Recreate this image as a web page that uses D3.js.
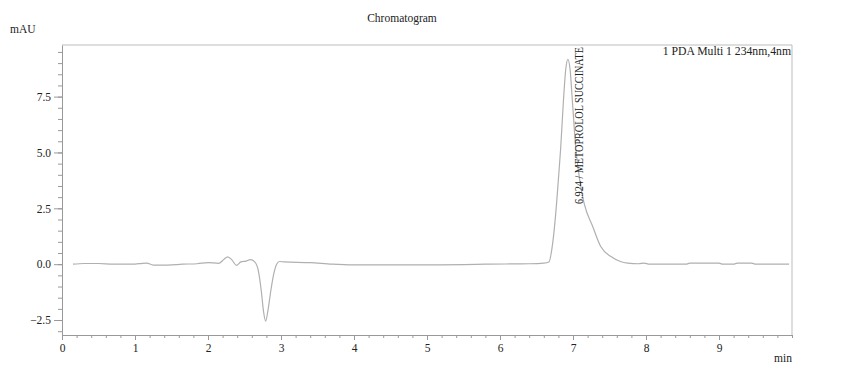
<!DOCTYPE html>
<html>
<head>
<meta charset="utf-8">
<script src="https://d3js.org/d3.v7.min.js"></script>
<style>
  body { margin: 0; background: #fff; }
  text { font-family: "Liberation Serif", "Times New Roman", serif; fill: #222; }
</style>
</head>
<body>
<div id="chart"></div>
<script>
// retention time (min) and signal (mAU)
const times = [0.15, 0.30, 0.50, 0.70, 1.00, 1.10, 1.16, 1.25, 1.45, 1.65, 1.85, 2.00, 2.15, 2.22, 2.27, 2.33, 2.39, 2.45, 2.52, 2.58, 2.64, 2.69, 2.73, 2.76, 2.79, 2.82, 2.86, 2.90, 2.94, 2.98, 3.05, 3.40, 3.70, 4.00, 4.50, 5.00, 5.50, 5.80, 6.40, 6.60, 6.67, 6.72, 6.76, 6.80, 6.83, 6.87, 6.90, 6.93, 6.96, 6.99, 7.04, 7.10, 7.15, 7.27, 7.38, 7.52, 7.65, 7.75, 7.90, 7.97, 8.05, 8.55, 8.60, 9.00, 9.05, 9.20, 9.25, 9.45, 9.50, 9.96];
const signal = [0.00, 0.03, 0.03, 0.00, 0.00, 0.04, 0.05, -0.04, -0.04, 0.00, 0.02, 0.07, 0.04, 0.22, 0.33, 0.18, -0.05, 0.10, 0.14, 0.20, 0.10, -0.30, -1.20, -2.10, -2.55, -2.10, -1.20, -0.45, 0.00, 0.12, 0.10, 0.07, 0.00, -0.03, -0.03, -0.03, -0.02, 0.00, 0.02, 0.05, 0.10, 0.90, 2.14, 3.80, 5.13, 7.37, 8.70, 9.17, 8.72, 7.37, 5.13, 3.60, 2.75, 1.69, 0.79, 0.34, 0.12, 0.05, 0.02, 0.05, 0.00, 0.00, 0.05, 0.05, 0.00, 0.00, 0.05, 0.05, 0.00, 0.00];

const xTicks = [0, 1, 2, 3, 4, 5, 6, 7, 8, 9];
const yTicks = [-2.5, 0.0, 2.5, 5.0, 7.5];
const peakLabel = "6.924 / METOPROLOL SUCCINATE";
const peakTime = 6.924;
const channelLabel = "1 PDA Multi 1 234nm,4nm";

const width = 858, height = 367;
const plotL = 62, plotR = 792, plotT = 45, plotB = 335;

const svg = d3.select("#chart").append("svg")
  .attr("width", width)
  .attr("height", height);

const x = d3.scaleLinear().domain([0, 10]).range([plotL, plotR]);
const y = d3.scaleLinear().domain([-3.17, 9.81]).range([plotB, plotT]);

// frame top and right
svg.append("path")
  .attr("d", `M${plotL},${plotT}H${plotR}V${plotB}`)
  .attr("fill", "none")
  .attr("stroke", "#bdbdbd")
  .attr("stroke-width", 1);

// minor ticks
svg.append("g")
  .attr("transform", `translate(0,${plotB})`)
  .call(d3.axisBottom(x).tickValues(d3.range(0, 10.01, 0.2)).tickSize(3).tickFormat(""))
  .call(g => g.select(".domain").remove())
  .call(g => g.selectAll("line").attr("stroke", "#999"));
svg.append("g")
  .attr("transform", `translate(${plotL},0)`)
  .call(d3.axisLeft(y).tickValues(d3.range(-3.0, 9.8, 0.5)).tickSize(4).tickFormat(""))
  .call(g => g.select(".domain").remove())
  .call(g => g.selectAll("line").attr("stroke", "#999"));

// major axes
const xAxis = svg.append("g")
  .attr("transform", `translate(0,${plotB})`)
  .call(d3.axisBottom(x).tickValues(xTicks).tickSize(5).tickPadding(4).tickFormat(d3.format("d")).tickSizeOuter(0));
const yAxis = svg.append("g")
  .attr("transform", `translate(${plotL},0)`)
  .call(d3.axisLeft(y).tickValues(yTicks).tickSize(8).tickPadding(3).tickFormat(d3.format(".1f")).tickSizeOuter(0));
[xAxis, yAxis].forEach(g => {
  g.select(".domain").attr("stroke", "#999");
  g.selectAll("line").attr("stroke", "#999");
  g.selectAll("text").attr("font-size", 11.5).attr("fill", "#222");
});

// trace
const pts = times.map((t, i) => [t, signal[i]]);
const line = d3.line()
  .x(d => x(d[0]))
  .y(d => y(d[1]))
  .curve(d3.curveMonotoneX);
svg.append("path")
  .datum(pts)
  .attr("d", line)
  .attr("fill", "none")
  .attr("stroke", "#b0b0b0")
  .attr("stroke-width", 1.2);

// texts
svg.append("text")
  .attr("x", 402).attr("y", 22)
  .attr("text-anchor", "middle")
  .attr("font-size", 11.5)
  .text("Chromatogram");
svg.append("text")
  .attr("x", 10).attr("y", 33)
  .attr("font-size", 11.5)
  .text("mAU");
svg.append("text")
  .attr("x", plotR).attr("y", 362)
  .attr("text-anchor", "end")
  .attr("font-size", 11.5)
  .text("min");
svg.append("text")
  .attr("x", plotR - 1).attr("y", 55)
  .attr("text-anchor", "end")
  .attr("font-size", 11.7)
  .text(channelLabel);
svg.append("text")
  .attr("transform", `translate(${x(peakTime) + 16},204) rotate(-90)`)
  .attr("font-size", 11.5)
  .attr("textLength", 157)
  .attr("lengthAdjust", "spacingAndGlyphs")
  .text(peakLabel);
</script>
</body>
</html>
